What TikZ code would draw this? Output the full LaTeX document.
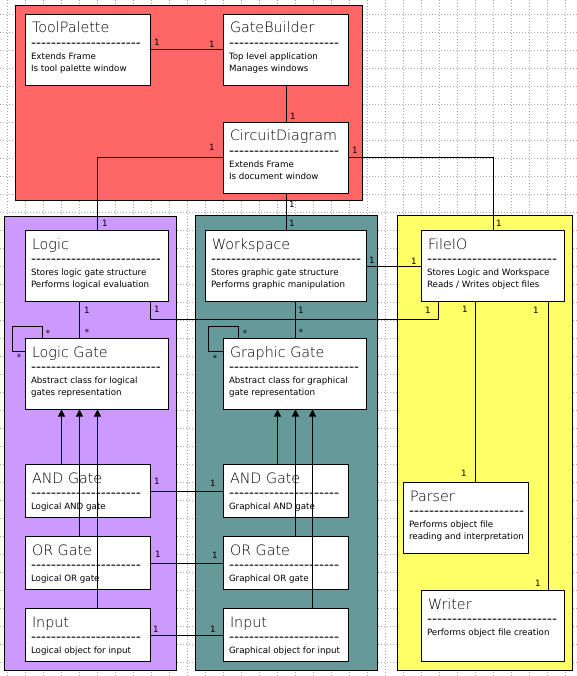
\documentclass[tikz,border=0pt]{standalone}
\usepackage{fontspec}
\setmainfont{DejaVu Sans}
\newfontfamily\dashfont{DejaVu Sans}
\newfontfamily\titlefont{DejaVuSans-ExtraLight.ttf}
\usetikzlibrary{arrows.meta,calc}

\definecolor{redpane}{RGB}{255,102,102}
\definecolor{lilac}{RGB}{204,153,255}
\definecolor{seateal}{RGB}{102,153,153}
\definecolor{lemon}{RGB}{255,255,102}

\begin{document}
\begin{tikzpicture}[x=1pt, y=-1pt, line width=1pt, >={Triangle[width=7pt,length=7pt]},
  cls/.style={draw=black, fill=white, anchor=north west, inner sep=0pt, outer sep=0pt},
  ttl/.style={anchor=base west, inner sep=0pt, font=\titlefont\fontsize{14.3}{16}\selectfont},
  dsh/.style={anchor=base west, inner sep=0pt, font=\dashfont\fontsize{13.85}{16}\selectfont},
  txt/.style={anchor=base west, inner sep=0pt, font=\fontsize{8.7}{10}\selectfont},
  mult/.style={inner sep=0pt, font=\fontsize{8.7}{10}\selectfont}]

\useasboundingbox (0,0) rectangle (577,676);
\fill[white] (0,0) rectangle (577,676);

% Rejilla de fondo
\begin{scope}[black!35, dotted]
\foreach \gx in {7.5,25.5,...,565.5} \draw (\gx,0) -- (\gx,676);
\foreach \gy in {14.5,32.5,...,662.5} \draw (0,\gy) -- (577,\gy);
\end{scope}

% Paquetes
\draw[fill=redpane] (15.5,5.5) rectangle (362.5,200.5);
\draw[fill=lilac] (4.5,216.5) rectangle (176.5,670.5);
\draw[fill=seateal] (195.5,215.5) rectangle (377.5,670.5);
\draw[fill=lemon] (397.5,215.5) rectangle (572.5,670.5);

% ToolPalette
\node[cls, minimum width=125pt, minimum height=71pt] (toolpalette) at (25.5,14.5) {};
\node[ttl] (toolpalette-t) at ($(toolpalette.north west)+(6,18.5)$) {ToolPalette};
\node[dsh] (toolpalette-d) at ($(toolpalette.north west)+(5,32.8)$) {----------------------};
\node[txt] (toolpalette-a) at ($(toolpalette.north west)+(5,45)$) {Extends Frame};
\node[txt] (toolpalette-b) at ($(toolpalette.north west)+(5,57)$) {Is tool palette window};

% GateBuilder
\node[cls, minimum width=125pt, minimum height=71pt] (gatebuilder) at (223.5,14.5) {};
\node[ttl] (gatebuilder-t) at ($(gatebuilder.north west)+(6,18.5)$) {GateBuilder};
\node[dsh] (gatebuilder-d) at ($(gatebuilder.north west)+(5,32.8)$) {----------------------};
\node[txt] (gatebuilder-a) at ($(gatebuilder.north west)+(5,45)$) {Top level application};
\node[txt] (gatebuilder-b) at ($(gatebuilder.north west)+(5,57)$) {Manages windows};

% CircuitDiagram
\node[cls, minimum width=125pt, minimum height=71pt] (circuitdiagram) at (223.5,122.5) {};
\node[ttl] (circuitdiagram-t) at ($(circuitdiagram.north west)+(6,18.5)$) {CircuitDiagram};
\node[dsh] (circuitdiagram-d) at ($(circuitdiagram.north west)+(5,32.8)$) {----------------------};
\node[txt] (circuitdiagram-a) at ($(circuitdiagram.north west)+(5,45)$) {Extends Frame};
\node[txt] (circuitdiagram-b) at ($(circuitdiagram.north west)+(5,57)$) {Is document window};

% Logic
\node[cls, minimum width=143pt, minimum height=71pt] (logic) at (25.5,230.5) {};
\node[ttl] (logic-t) at ($(logic.north west)+(6,18.5)$) {Logic};
\node[dsh] (logic-d) at ($(logic.north west)+(5,32.8)$) {--------------------------};
\node[txt] (logic-a) at ($(logic.north west)+(5,45)$) {Stores logic gate structure};
\node[txt] (logic-b) at ($(logic.north west)+(5,57)$) {Performs logical evaluation};

% Workspace
\node[cls, minimum width=161pt, minimum height=71pt] (workspace) at (205.5,230.5) {};
\node[ttl] (workspace-t) at ($(workspace.north west)+(6,18.5)$) {Workspace};
\node[dsh] (workspace-d) at ($(workspace.north west)+(5,32.8)$) {------------------------------};
\node[txt] (workspace-a) at ($(workspace.north west)+(5,45)$) {Stores graphic gate structure};
\node[txt] (workspace-b) at ($(workspace.north west)+(5,57)$) {Performs graphic manipulation};

% FileIO
\node[cls, minimum width=143pt, minimum height=71pt] (fileio) at (421.5,230.5) {};
\node[ttl] (fileio-t) at ($(fileio.north west)+(6,18.5)$) {FileIO};
\node[dsh] (fileio-d) at ($(fileio.north west)+(5,32.8)$) {--------------------------};
\node[txt] (fileio-a) at ($(fileio.north west)+(5,45)$) {Stores Logic and Workspace};
\node[txt] (fileio-b) at ($(fileio.north west)+(5,57)$) {Reads / Writes object files};

% Logic Gate
\node[cls, minimum width=143pt, minimum height=71pt] (logicgate) at (25.5,338.5) {};
\node[ttl] (logicgate-t) at ($(logicgate.north west)+(6,18.5)$) {Logic Gate};
\node[dsh] (logicgate-d) at ($(logicgate.north west)+(5,32.8)$) {--------------------------};
\node[txt] (logicgate-a) at ($(logicgate.north west)+(5,45)$) {Abstract class for logical};
\node[txt] (logicgate-b) at ($(logicgate.north west)+(5,57)$) {gates representation};

% Graphic Gate
\node[cls, minimum width=143pt, minimum height=71pt] (graphicgate) at (223.5,338.5) {};
\node[ttl] (graphicgate-t) at ($(graphicgate.north west)+(6,18.5)$) {Graphic Gate};
\node[dsh] (graphicgate-d) at ($(graphicgate.north west)+(5,32.8)$) {--------------------------};
\node[txt] (graphicgate-a) at ($(graphicgate.north west)+(5,45)$) {Abstract class for graphical};
\node[txt] (graphicgate-b) at ($(graphicgate.north west)+(5,57)$) {gate representation};

% Puertas logicas
\node[cls, minimum width=125pt, minimum height=53pt] (andl) at (25.5,464.5) {};
\node[ttl] (andl-t) at ($(andl.north west)+(6,18.5)$) {AND Gate};
\node[dsh] (andl-d) at ($(andl.north west)+(5,32.8)$) {----------------------};
\node[txt] (andl-a) at ($(andl.north west)+(5,45)$) {Logical AND gate};

\node[cls, minimum width=125pt, minimum height=53pt] (orl) at (25.5,536.5) {};
\node[ttl] (orl-t) at ($(orl.north west)+(6,18.5)$) {OR Gate};
\node[dsh] (orl-d) at ($(orl.north west)+(5,32.8)$) {----------------------};
\node[txt] (orl-a) at ($(orl.north west)+(5,45)$) {Logical OR gate};

\node[cls, minimum width=125pt, minimum height=53pt] (inputl) at (25.5,608.5) {};
\node[ttl] (inputl-t) at ($(inputl.north west)+(6,18.5)$) {Input};
\node[dsh] (inputl-d) at ($(inputl.north west)+(5,32.8)$) {----------------------};
\node[txt] (inputl-a) at ($(inputl.north west)+(5,45)$) {Logical object for input};

% Puertas graficas
\node[cls, minimum width=125pt, minimum height=53pt] (andg) at (223.5,464.5) {};
\node[ttl] (andg-t) at ($(andg.north west)+(6,18.5)$) {AND Gate};
\node[dsh] (andg-d) at ($(andg.north west)+(5,32.8)$) {----------------------};
\node[txt] (andg-a) at ($(andg.north west)+(5,45)$) {Graphical AND gate};

\node[cls, minimum width=125pt, minimum height=53pt] (org) at (223.5,536.5) {};
\node[ttl] (org-t) at ($(org.north west)+(6,18.5)$) {OR Gate};
\node[dsh] (org-d) at ($(org.north west)+(5,32.8)$) {----------------------};
\node[txt] (org-a) at ($(org.north west)+(5,45)$) {Graphical OR gate};

\node[cls, minimum width=125pt, minimum height=53pt] (inputg) at (223.5,608.5) {};
\node[ttl] (inputg-t) at ($(inputg.north west)+(6,18.5)$) {Input};
\node[dsh] (inputg-d) at ($(inputg.north west)+(5,32.8)$) {----------------------};
\node[txt] (inputg-a) at ($(inputg.north west)+(5,45)$) {Graphical object for input};

% Parser y Writer
\node[cls, minimum width=125pt, minimum height=71pt] (parser) at (403.5,482.5) {};
\node[ttl] (parser-t) at ($(parser.north west)+(6,18.5)$) {Parser};
\node[dsh] (parser-d) at ($(parser.north west)+(5,32.8)$) {-----------------------};
\node[txt] (parser-a) at ($(parser.north west)+(5,45)$) {Performs object file};
\node[txt] (parser-b) at ($(parser.north west)+(5,57)$) {reading and interpretation};

\node[cls, minimum width=143pt, minimum height=71pt] (writer) at (421.5,590.5) {};
\node[ttl] (writer-t) at ($(writer.north west)+(6,18.5)$) {Writer};
\node[dsh] (writer-d) at ($(writer.north west)+(5,32.8)$) {--------------------------};
\node[txt] (writer-a) at ($(writer.north west)+(5,45)$) {Performs object file creation};

% Asociaciones
\draw (toolpalette) -- (gatebuilder);
\draw (gatebuilder) -- (circuitdiagram);
\draw (circuitdiagram.west) -| (logic.north);
\draw (circuitdiagram.east) -| (fileio.north);
\draw (circuitdiagram) -- (workspace);
\draw ([xshift=-17.5pt]logic.south) -- ([xshift=-17.5pt]logicgate.north);
\draw ([xshift=9.5pt]workspace.south) -- ([xshift=0.5pt]graphicgate.north);
\draw (workspace) -- (fileio);
\draw ([xshift=53.5pt]logic.south) -- ++(0,18) -| ([xshift=-54.5pt]fileio.south);
\draw ([xshift=-17.5pt]fileio.south) -- ([xshift=9.5pt]parser.north);
\draw ([xshift=55.5pt]fileio.south) -- ([xshift=55.5pt]writer.north);
\draw (andl) -- (andg);
\draw (orl) -- (org);
\draw (inputl) -- (inputg);

% Autoasociaciones
\draw ([xshift=17pt]logicgate.north west) |- ++(-30,-12) |- ([yshift=-13pt]logicgate.north west);
\draw ([xshift=15pt]graphicgate.north west) |- ++(-30,-12) |- ([yshift=-13pt]graphicgate.north west);

% Herencia
\draw[->] ([xshift=-26.5pt]andl.north) -- ([xshift=-35.5pt]logicgate.south);
\draw[->] ([xshift=-8.5pt]orl.north) -- ([xshift=-17.5pt]logicgate.south);
\draw[->] ([xshift=9.5pt]inputl.north) -- ([xshift=0.5pt]logicgate.south);
\draw[->] ([xshift=-8.5pt]andg.north) -- ([xshift=-17.5pt]graphicgate.south);
\draw[->] ([xshift=9.5pt]org.north) -- ([xshift=0.5pt]graphicgate.south);
\draw[->] ([xshift=26.5pt]inputg.north) -- ([xshift=17.5pt]graphicgate.south);

% Multiplicidades
\node[mult] (m-tp) at (157,42) {1};
\node[mult] (m-gb) at (212,44) {1};
\node[mult] (m-cdtop) at (293,116) {1};
\node[mult] (m-cdleft) at (212,147) {1};
\node[mult] (m-logictop) at (105,223) {1};
\node[mult] (m-cdright) at (355,150) {1};
\node[mult] (m-fileiotop) at (499,223) {1};
\node[mult] (m-cdbottom) at (292,204) {1};
\node[mult] (m-wstop) at (292,223) {1};
\node[mult] (m-logicbottom) at (87,310) {1};
\node[mult] (m-lgtop) at (87,332) {*};
\node[mult] (m-lgloopa) at (48,333) {*};
\node[mult] (m-lgloopb) at (19,357) {*};
\node[mult] (m-logicfile) at (157,309) {1};
\node[mult] (m-filelogic) at (428,310) {1};
\node[mult] (m-wsbottom) at (301,310) {1};
\node[mult] (m-ggtop) at (301,332) {*};
\node[mult] (m-ggloopa) at (245,333) {*};
\node[mult] (m-ggloopb) at (215,358) {*};
\node[mult] (m-wsright) at (372,260) {1};
\node[mult] (m-fileleft) at (414,261) {1};
\node[mult] (m-fileparser) at (465,309) {1};
\node[mult] (m-parsertop) at (464,473) {1};
\node[mult] (m-filewriter) at (536,310) {1};
\node[mult] (m-writertop) at (538,583) {1};
\node[mult] (m-andl) at (157,481) {1};
\node[mult] (m-andg) at (213,483) {1};
\node[mult] (m-orl) at (158,554) {1};
\node[mult] (m-org) at (215,555) {1};
\node[mult] (m-inputl) at (156,629) {1};
\node[mult] (m-inputg) at (213,629) {1};

\end{tikzpicture}
\end{document}
